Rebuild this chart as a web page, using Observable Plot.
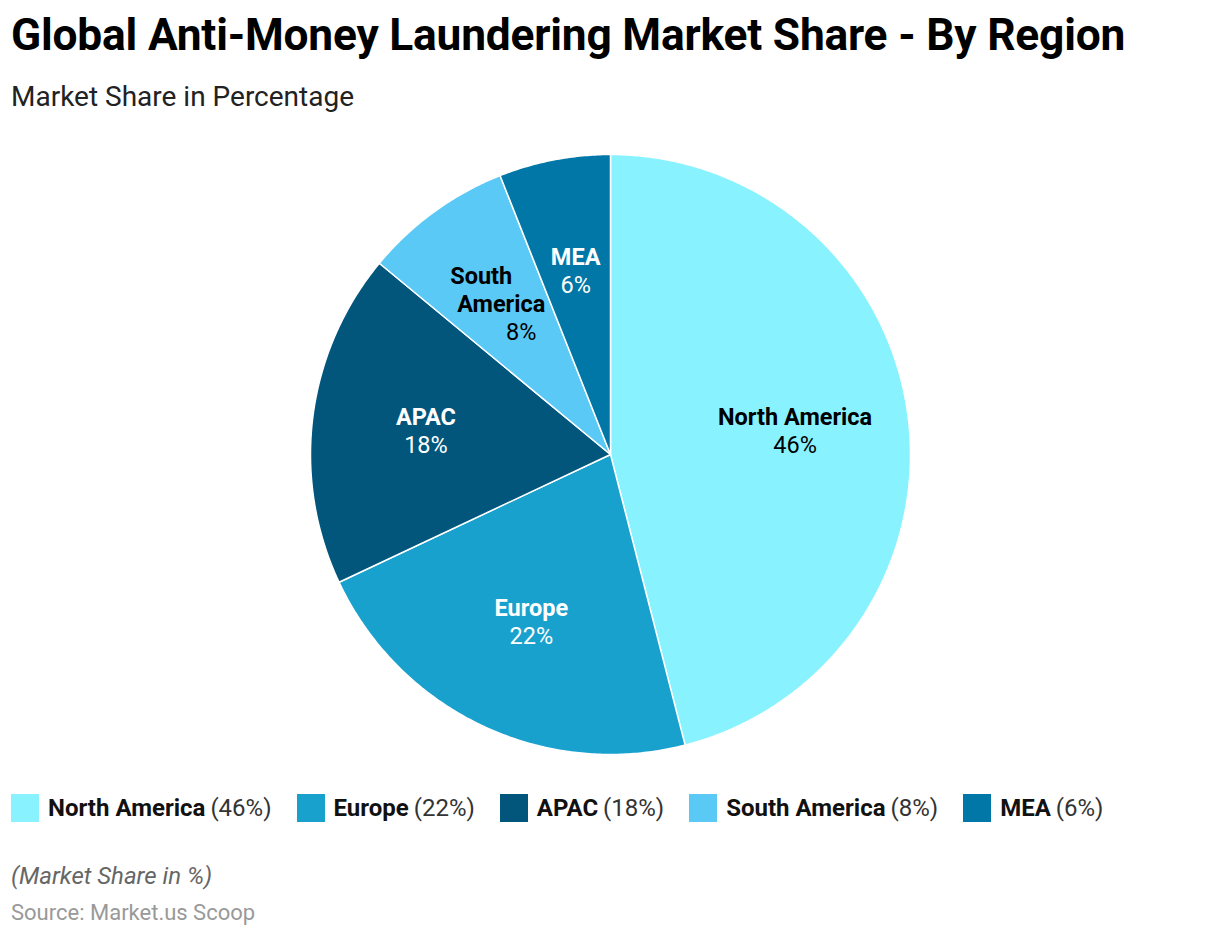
<!DOCTYPE html>
<html>
<head>
<meta charset="utf-8">
<script src="https://cdn.jsdelivr.net/npm/d3@7"></script>
<script src="https://cdn.jsdelivr.net/npm/@observablehq/plot@0.6"></script>
<style>
  html, body { margin: 0; padding: 0; background: #fff; }
  body { width: 1220px; height: 936px; font-family: Roboto, "Noto Sans", sans-serif; color: #111; position: relative; overflow: hidden; }
  #title { position: absolute; left: 11px; top: 8px; font-size: 44.3px; font-weight: 700; color: #000; white-space: nowrap; letter-spacing: -0.2px; line-height: 54px; }
  #subtitle { position: absolute; left: 11px; top: 80px; font-size: 28px; color: #222; white-space: nowrap; line-height: 34px; }
  #chart { position: absolute; left: 0; top: 120px; }
  #legend { position: absolute; left: 11px; top: 794px; display: flex; gap: 25px; font-size: 24px; white-space: nowrap; line-height: 28px; }
  .item { display: flex; align-items: center; }
  .sw { width: 28px; height: 28px; margin-right: 9px; }
  .item b { color: #111; font-weight: 700; }
  .item span { color: #333; margin-left: 5px; }
  #note { position: absolute; left: 11px; top: 861px; font-size: 24px; font-style: italic; color: #666; line-height: 30px; }
  #source { position: absolute; left: 11px; top: 899px; font-size: 22px; color: #999; line-height: 28px; }
</style>
</head>
<body>
<div id="title">Global Anti-Money Laundering Market Share - By Region</div>
<div id="subtitle">Market Share in Percentage</div>
<div id="chart"></div>
<div id="legend"></div>
<div id="note">(Market Share in %)</div>
<div id="source">Source: Market.us Scoop</div>
<script>
// Data
const regions = ["North America", "Europe", "APAC", "South America", "MEA"];
const shares = [46, 22, 18, 8, 6];
const colors = ["#88F3FF", "#19A1CE", "#02567C", "#5BC9F6", "#0077A6"];
const labelLines = [["North America"], ["Europe"], ["APAC"], ["South", "America"], ["MEA"]];
const darkSlices = ["Europe", "APAC", "MEA"];

const W = 1220, H = 650, R = 300, cx = 610, cy = 334;
const pie = d3.pie().sort(null).value(d => d.share);
const arcs = pie(regions.map((r, i) => ({region: r, share: shares[i], lines: labelLines[i]})));

// slice polygons
const pts = [];
for (const a of arcs) {
  const r = a.data.region;
  pts.push({region: r, x: 0, y: 0});
  const n = Math.max(2, Math.ceil((a.endAngle - a.startAngle) / (Math.PI / 360)));
  for (let k = 0; k <= n; k++) {
    const t = a.startAngle + (a.endAngle - a.startAngle) * k / n;
    pts.push({region: r, x: R * Math.sin(t), y: R * Math.cos(t)});
  }
  pts.push({region: r, x: 0, y: 0});
}

// label rows (wrapped labels are slanted along the slice, as in the reference)
const LR = 0.62 * R, LH = 28;
const rows = [];
for (const a of arcs) {
  const mid = (a.startAngle + a.endAngle) / 2;
  const lx = LR * Math.sin(mid), ly = LR * Math.cos(mid);
  const lines = a.data.lines.map(t => ({t, bold: true})).concat([{t: a.data.share + "%", bold: false}]);
  const n = lines.length;
  const slant = n > 2 ? 20 : 0;
  lines.forEach((l, i) => {
    const off = i - (n - 1) / 2;
    rows.push({region: a.data.region, text: l.t, bold: l.bold,
      x: lx + off * slant, y: ly - off * LH,
      dark: darkSlices.includes(a.data.region)});
  });
}

const txt = (filterFn, fill, weight) => Plot.text(rows.filter(filterFn), {
  x: "x", y: "y", text: "text", fill, fontWeight: weight, fontSize: 23.5,
  fontFamily: "Roboto", textAnchor: "middle", lineAnchor: "middle"
});

const chart = Plot.plot({
  width: W, height: H,
  margin: 0,
  x: {domain: [-cx, W - cx], axis: null},
  y: {domain: [-(H - cy), cy], axis: null},
  color: {domain: regions, range: colors},
  style: {background: "transparent"},
  marks: [
    Plot.line(pts, {x: "x", y: "y", z: "region", fill: "region", stroke: "white", strokeWidth: 1.5, strokeLinejoin: "round", curve: "linear"}),
    txt(d => d.dark && d.bold, "white", 700),
    txt(d => d.dark && !d.bold, "white", 400),
    txt(d => !d.dark && d.bold, "#000", 700),
    txt(d => !d.dark && !d.bold, "#000", 400)
  ]
});
document.getElementById("chart").appendChild(chart);

// legend
const lg = document.getElementById("legend");
regions.forEach((r, i) => {
  const it = document.createElement("div");
  it.className = "item";
  it.innerHTML = `<div class="sw" style="background:${colors[i]}"></div><b>${r}</b><span>(${shares[i]}%)</span>`;
  lg.appendChild(it);
});
</script>
</body>
</html>
